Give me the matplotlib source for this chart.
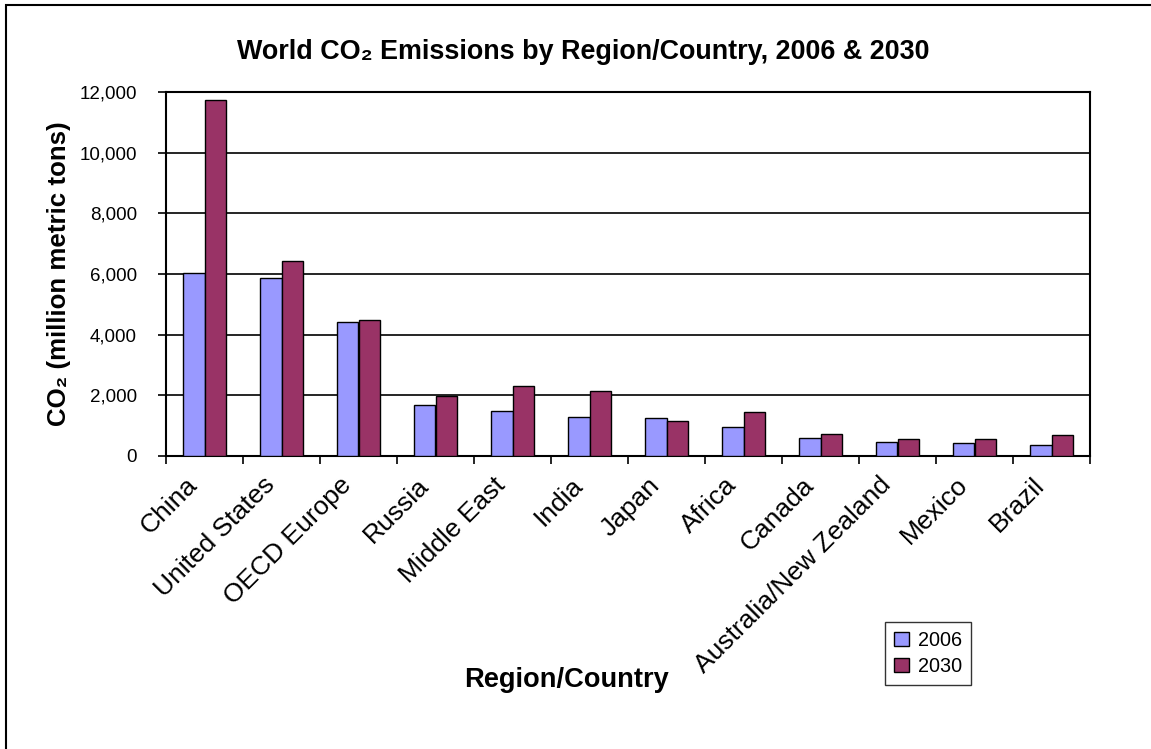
"""World CO2 emissions by region/country, 2006 vs 2030 (Excel-style bar chart)."""

import numpy as np
import matplotlib
matplotlib.use('Agg')
import matplotlib.pyplot as plt
from matplotlib.patches import Rectangle
from matplotlib.transforms import ScaledTranslation

plt.rcParams['font.family'] = ['Liberation Sans', 'DejaVu Sans']

regions = ['China', 'United States', 'OECD Europe', 'Russia', 'Middle East',
           'India', 'Japan', 'Africa', 'Canada', 'Australia/New Zealand',
           'Mexico', 'Brazil']
emis_2006 = [6030, 5880, 4410, 1690, 1480, 1300, 1240, 970, 600, 470, 420, 370]
emis_2030 = [11720, 6440, 4490, 1970, 2320, 2130, 1160, 1440, 740, 560, 560, 690]
yticks = [0, 2000, 4000, 6000, 8000, 10000, 12000]

fig = plt.figure(figsize=(11.51, 7.49), dpi=100)
fig.patch.set_facecolor('white')

# outer chart frame (only the left and top edges fall inside the picture)
fig.patches.append(Rectangle((6 / 1151, -0.1), 1.2, 1 - 5 / 749 + 0.1,
                             transform=fig.transFigure, fill=False,
                             edgecolor='black', linewidth=1.5))

ax = fig.add_axes([166 / 1151, 1 - 456 / 749, (1090 - 166) / 1151, (456 - 92) / 749])

x = np.arange(len(regions))
w = 0.28
ax.bar(x - w / 2, emis_2006, w, color='#9999FF', edgecolor='black',
       linewidth=1.0, label='2006', zorder=3)
ax.bar(x + w / 2, emis_2030, w, color='#993366', edgecolor='black',
       linewidth=1.0, label='2030', zorder=3)

ax.set_xlim(-0.5, len(regions) - 0.5)
ax.set_ylim(0, 12000)
ax.set_yticks(yticks)
ax.set_yticklabels(['{:,}'.format(v) for v in yticks], fontsize=13.5)
ax.yaxis.grid(True, color='black', linewidth=1.2, zorder=0)
ax.set_axisbelow(True)
ax.tick_params(axis='y', direction='out', length=5.8, width=1.2, pad=15)

ax.set_xticks(x)
ax.set_xticklabels(regions, rotation=45, ha='right', va='top',
                   rotation_mode='anchor', fontsize=19)
ax.tick_params(axis='x', which='major', length=0, pad=10)
ax.set_xticks(np.arange(len(regions) + 1) - 0.5, minor=True)
ax.tick_params(axis='x', which='minor', direction='out', length=5.8, width=1.2)
# Excel puts the end of each slanted label a little left of the category centre
shift = ScaledTranslation(-0.19, -0.03, fig.dpi_scale_trans)
for lab in ax.get_xticklabels():
    lab.set_transform(lab.get_transform() + shift)

for s in ax.spines.values():
    s.set_linewidth(1.5)
    s.set_color('black')

fig.text(583 / 1151, 1 - 52 / 749,
         'World CO\u2082 Emissions by Region/Country, 2006 & 2030',
         ha='center', va='center', fontsize=19.4, fontweight='bold')
fig.text(59 / 1151, 1 - 274 / 749, 'CO\u2082 (million metric tons)',
         rotation=90, ha='center', va='center', fontsize=18.6, fontweight='bold')
fig.text(566 / 1151, 1 - 680 / 749, 'Region/Country',
         ha='center', va='center', fontsize=19.6, fontweight='bold')

leg = fig.legend(loc='upper left', bbox_to_anchor=(885 / 1151, 1 - 622 / 749),
                 fontsize=14.3, frameon=True, fancybox=False, borderpad=0.45,
                 handlelength=0.75, handleheight=0.75, handletextpad=0.45,
                 labelspacing=0.35, borderaxespad=0)
leg.get_frame().set_edgecolor('black')
leg.get_frame().set_linewidth(1.0)

fig.savefig('out.png', dpi=100)
